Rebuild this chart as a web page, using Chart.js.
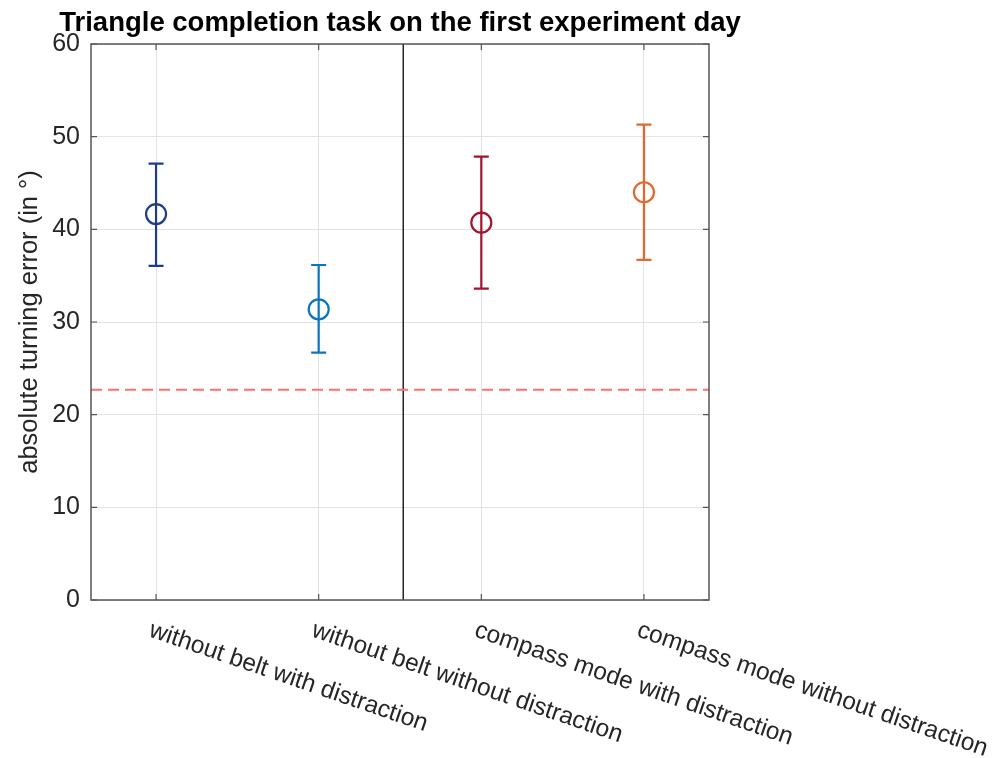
<!DOCTYPE html>
<html>
<head>
<meta charset="utf-8">
<script src="https://cdn.jsdelivr.net/npm/chart.js@4"></script>
<style>
  html, body { margin: 0; padding: 0; background: #fff; }
  #wrap { width: 1000px; height: 758px; }
</style>
</head>
<body>
<div id="wrap"><canvas id="c" width="1000" height="758"></canvas></div>
<script>
// Conditions of the triangle completion task
const categories = [
  'without belt with distraction',
  'without belt without distraction',
  'compass mode with distraction',
  'compass mode without distraction'
];
const positions = [1, 2, 3, 4];
// Mean absolute turning error (degrees) and its interval bounds
const meanError = [41.65, 31.37, 40.72, 44.0];
const upperError = [47.1, 36.15, 47.85, 51.3];
const lowerError = [36.05, 26.7, 33.6, 36.7];
const colors = ['#1E3C87', '#0A74C2', '#A2142F', '#E8652A'];
// Reference level (dashed) and separator between conditions
const referenceLevel = 22.7;
const separatorX = 2.52;
const xRange = [0.6, 4.4];
const yTicks = [0, 10, 20, 30, 40, 50, 60];
const chartTitle = 'Triangle completion task on the first experiment day';

const AXIS_COLOR = '#555555';
const TEXT_COLOR = '#262626';
const FONT = "'Liberation Sans', Arial, Helvetica, sans-serif";

const errorBars = {
  id: 'errorBars',
  beforeDatasetsDraw(chart) {
    const { ctx, scales: { x, y } } = chart;
    ctx.save();
    ctx.lineWidth = 2.2;
    positions.forEach((p, i) => {
      const px = x.getPixelForValue(p);
      const yt = y.getPixelForValue(upperError[i]);
      const yb = y.getPixelForValue(lowerError[i]);
      const cap = 7.5;
      ctx.strokeStyle = colors[i];
      ctx.beginPath();
      ctx.moveTo(px, yt); ctx.lineTo(px, yb);
      ctx.moveTo(px - cap, yt); ctx.lineTo(px + cap, yt);
      ctx.moveTo(px - cap, yb); ctx.lineTo(px + cap, yb);
      ctx.stroke();
    });
    ctx.restore();
  }
};

const frame = {
  id: 'frame',
  afterDraw(chart) {
    const { ctx, chartArea: a, scales: { x, y } } = chart;
    ctx.save();
    // box
    ctx.strokeStyle = AXIS_COLOR;
    ctx.lineWidth = 1.5;
    ctx.strokeRect(a.left, a.top, a.right - a.left, a.bottom - a.top);
    // inward tick marks
    ctx.lineWidth = 1.2;
    ctx.beginPath();
    const t = 6;
    yTicks.forEach(v => {
      const py = y.getPixelForValue(v);
      ctx.moveTo(a.left, py); ctx.lineTo(a.left + t, py);
      ctx.moveTo(a.right, py); ctx.lineTo(a.right - t, py);
    });
    positions.forEach(v => {
      const px = x.getPixelForValue(v);
      ctx.moveTo(px, a.bottom); ctx.lineTo(px, a.bottom - t);
      ctx.moveTo(px, a.top); ctx.lineTo(px, a.top + t);
    });
    ctx.stroke();
    // title, centred over the plot box
    ctx.fillStyle = '#000';
    ctx.font = 'bold 27.5px ' + FONT;
    ctx.textAlign = 'center';
    ctx.textBaseline = 'middle';
    ctx.fillText(chartTitle, (a.left + a.right) / 2, 23);
    // slanted category labels
    ctx.fillStyle = TEXT_COLOR;
    ctx.font = '24.5px ' + FONT;
    ctx.textAlign = 'left';
    ctx.textBaseline = 'top';
    positions.forEach((p, i) => {
      const px = x.getPixelForValue(p);
      ctx.save();
      ctx.translate(px - 2, a.bottom + 18);
      ctx.rotate(19 * Math.PI / 180);
      ctx.fillText(categories[i], 0, 0);
      ctx.restore();
    });
    ctx.restore();
  }
};

new Chart(document.getElementById('c'), {
  type: 'scatter',
  data: {
    datasets: [
      {
        label: 'mean',
        data: positions.map((p, i) => ({ x: p, y: meanError[i] })),
        pointStyle: 'circle',
        pointRadius: 10,
        pointBorderWidth: 2.2,
        pointBorderColor: colors,
        pointBackgroundColor: 'rgba(0,0,0,0)',
        showLine: false,
        order: 0
      },
      {
        label: 'reference',
        type: 'line',
        data: [{ x: xRange[0], y: referenceLevel }, { x: xRange[1], y: referenceLevel }],
        borderColor: '#FF6F6F',
        borderWidth: 2,
        borderDash: [11, 6],
        pointRadius: 0,
        order: 1
      },
      {
        label: 'separator',
        type: 'line',
        data: [{ x: separatorX, y: yTicks[0] }, { x: separatorX, y: yTicks[yTicks.length - 1] }],
        borderColor: '#262626',
        borderWidth: 1.5,
        pointRadius: 0,
        order: 2
      }
    ]
  },
  options: {
    responsive: false,
    animation: false,
    layout: { padding: { left: 0, right: 291, top: 44, bottom: 0 } },
    plugins: {
      legend: { display: false },
      tooltip: { enabled: false },
      title: { display: false }
    },
    scales: {
      x: {
        type: 'linear',
        min: xRange[0],
        max: xRange[1],
        afterBuildTicks(scale) { scale.ticks = positions.map(v => ({ value: v })); },
        afterFit(scale) { scale.height = 158; },
        ticks: { display: false },
        grid: { color: '#E3E3E3', lineWidth: 1, drawTicks: false },
        border: { display: false }
      },
      y: {
        min: 0,
        max: 60,
        afterBuildTicks(scale) { scale.ticks = yTicks.map(v => ({ value: v })); },
        afterFit(scale) { scale.width = 91; },
        ticks: { color: TEXT_COLOR, font: { family: FONT, size: 25 }, padding: 11 },
        grid: { color: '#E3E3E3', lineWidth: 1, drawTicks: false },
        border: { display: false },
        title: {
          display: true,
          text: 'absolute turning error (in °)',
          color: TEXT_COLOR,
          font: { family: FONT, size: 25.5 },
          padding: { top: 14.5, bottom: 0 }
        }
      }
    }
  },
  plugins: [errorBars, frame]
});
</script>
</body>
</html>
